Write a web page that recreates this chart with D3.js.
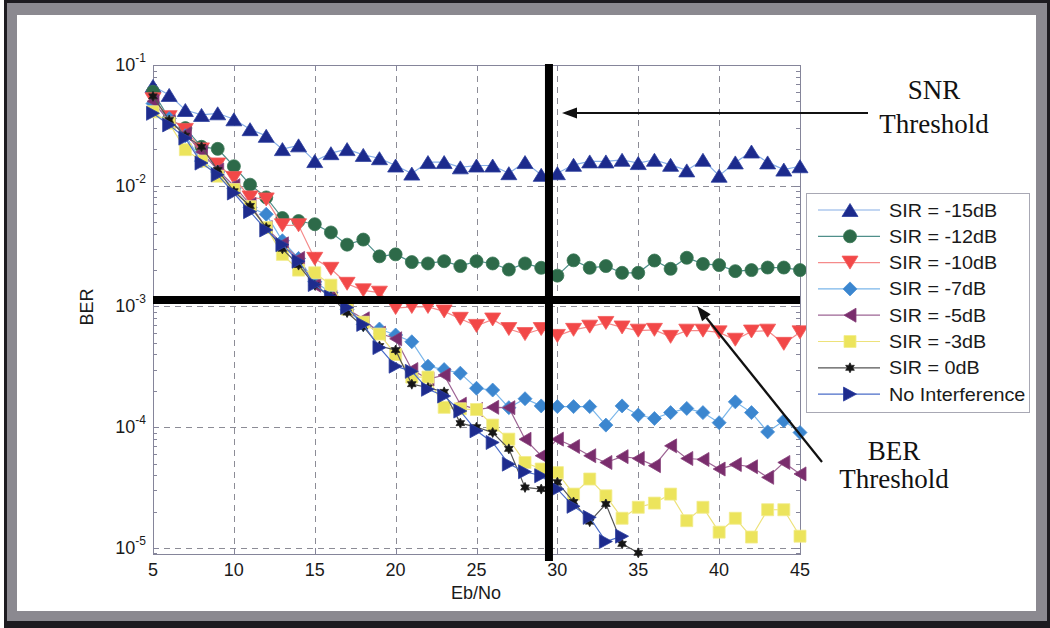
<!DOCTYPE html>
<html>
<head>
<meta charset="utf-8">
<script src="https://cdn.jsdelivr.net/npm/d3@7"></script>
<style>
  html, body { margin: 0; padding: 0; background: #fff; }
  svg { display: block; }
  text.sans { font-family: "Liberation Sans", Arial, sans-serif; }
  text.serif { font-family: "Liberation Serif", "Times New Roman", serif; }
</style>
</head>
<body>
<script>
// Eb/No sample points (dB)
const ebno = [5,6,7,8,9,10,11,12,13,14,15,16,17,18,19,20,21,22,23,24,25,26,27,28,29,30,31,32,33,34,35,36,37,38,39,40,41,42,43,44,45];

// Measured BER per interference level
const berSir15 = [0.067,0.0565,0.0424,0.0386,0.0398,0.0355,0.0294,0.0259,0.0201,0.0216,0.0160,0.0186,0.0201,0.0180,0.0169,0.0147,0.0126,0.0157,0.0157,0.0142,0.0147,0.0147,0.0127,0.0157,0.0123,0.0127,0.0149,0.0159,0.0159,0.0164,0.0154,0.0164,0.0149,0.0134,0.0164,0.0121,0.0156,0.0192,0.0156,0.0136,0.0145];
const berSir12 = [0.060,0.036,0.030,0.021,0.0202,0.0145,0.0102,0.0080,0.0054,0.0051,0.0048,0.0041,0.00325,0.00358,0.0026,0.0027,0.00233,0.00227,0.00237,0.00216,0.00237,0.00227,0.00202,0.00227,0.00209,0.00180,0.00241,0.00209,0.00216,0.0019,0.0019,0.0024,0.00205,0.00253,0.00225,0.0022,0.00196,0.0020,0.0021,0.0021,0.0020];
const berSir10 = [0.052,0.037,0.029,0.020,0.015,0.0116,0.0080,0.0077,0.0047,0.0047,0.00248,0.00205,0.00154,0.00136,0.0013,0.00097,0.00099,0.00099,0.00091,0.00079,0.00069,0.00078,0.00065,0.00059,0.00065,0.00057,0.00064,0.00068,0.00073,0.00067,0.00063,0.00064,0.00056,0.00063,0.00063,0.00061,0.00053,0.00062,0.00063,0.00049,0.00061];
const berSir7 = [0.048,0.036,0.026,0.016,0.013,0.0095,0.0066,0.0058,0.0035,0.0025,0.0016,0.0013,0.00094,0.00071,0.00065,0.00058,0.00051,0.00032,0.00030,0.00028,0.00021,0.000203,0.000145,0.000172,0.00015,0.000148,0.000148,0.000148,0.000104,0.00015,0.000126,0.000118,0.000132,0.000143,0.000132,0.000109,0.000162,0.000132,0.0000914,0.000113,0.0000903];
const berSir5 = [0.050,0.034,0.027,0.019,0.0135,0.0100,0.0070,0.0045,0.0033,0.0025,0.0015,0.0012,0.00095,0.00079,0.00060,0.00054,0.00030,0.00025,0.00027,0.000155,0.00014,0.000146,0.000145,0.0000794,0.000058,0.0000796,0.0000692,0.000058,0.000051,0.000057,0.000055,0.000048,0.000070,0.000055,0.000054,0.000045,0.000049,0.000047,0.0000384,0.000051,0.000041];
const berSir3 = [0.041,0.033,0.0199,0.016,0.012,0.0093,0.0067,0.0045,0.0027,0.0020,0.0019,0.0015,0.00095,0.00074,0.00059,0.00040,0.00026,0.00026,0.000146,0.000142,0.00014,0.000104,0.0000796,0.000051,0.000045,0.000042,0.0000279,0.0000372,0.000027,0.0000176,0.0000217,0.0000235,0.0000279,0.0000168,0.0000217,0.0000135,0.0000176,0.0000123,0.0000207,0.0000207,0.0000125];
const berSir0 = [0.055,0.035,0.026,0.021,0.0135,0.009,0.0068,0.0045,0.003,0.0022,0.0015,0.0012,0.00089,0.00068,0.00047,0.000435,0.000227,0.000213,0.000196,0.000108,0.0001,0.0000903,0.0000661,0.0000317,0.0000307,0.000035,0.000024,0.0000165,0.0000231,0.0000108,0.0000091];
const berNoInt = [0.0398,0.0319,0.0248,0.0154,0.0123,0.0087,0.0061,0.0043,0.00325,0.00237,0.00152,0.0012,0.00098,0.00071,0.000456,0.00032,0.00029,0.000206,0.000181,0.000136,0.0000933,0.0000747,0.0000494,0.0000427,0.0000396,0.0000307,0.0000221,0.0000179,0.0000113,0.0000125];

const seriesNames = ["SIR = -15dB","SIR = -12dB","SIR = -10dB","SIR = -7dB","SIR = -5dB","SIR = -3dB","SIR = 0dB","No Interference"];
const seriesValues = [berSir15, berSir12, berSir10, berSir7, berSir5, berSir3, berSir0, berNoInt];

// Axis ticks
const xTicks = [5,10,15,20,25,30,35,40,45];
const yTicks = [1e-5,1e-4,1e-3,1e-2,1e-1];
const yTickExp = ["-5","-4","-3","-2","-1"];

// Threshold lines
const snrThreshold = 29.48;
const berThreshold = 1.13e-3;

// Look of each series
const styles = [
  {shape:"up",      fill:"#1c2a8c", edge:"#2c3f9e", line:"#86aee6", w:16, h:13},
  {shape:"circle",  fill:"#2d6a49", edge:"#3a7756", line:"#4f8f8a", w:13, h:13},
  {shape:"down",    fill:"#f24848", edge:"#f25a5a", line:"#f58a8a", w:16, h:13},
  {shape:"diamond", fill:"#3b86cf", edge:"#4a90d6", line:"#7ab6ea", w:14, h:14},
  {shape:"left",    fill:"#7a2d6d", edge:"#86407a", line:"#9d6494", w:12, h:14},
  {shape:"square",  fill:"#ece45c", edge:"#f2ec8c", line:"#ede27a", w:12, h:12},
  {shape:"hex",     fill:"#151515", edge:"#222",    line:"#555",    w:10, h:10},
  {shape:"right",   fill:"#1e2c8e", edge:"#2c3f9e", line:"#4a6cc8", w:13, h:14}
];

function markerPath(st) {
  const w = st.w / 2, h = st.h / 2;
  switch (st.shape) {
    case "up":    return `M0,${-h}L${w},${h}L${-w},${h}Z`;
    case "down":  return `M0,${h}L${w},${-h}L${-w},${-h}Z`;
    case "left":  return `M${-w},0L${w},${-h}L${w},${h}Z`;
    case "right": return `M${w},0L${-w},${-h}L${-w},${h}Z`;
    case "diamond": return `M0,${-h}L${w},0L0,${h}L${-w},0Z`;
    case "square":  return `M${-w},${-h}H${w}V${h}H${-w}Z`;
    case "circle":  return `M${w},0A${w},${w} 0 1,1 ${-w},0A${w},${w} 0 1,1 ${w},0Z`;
    case "hex": {
      const pts = [];
      for (let i = 0; i < 12; i++) {
        const r = i % 2 === 0 ? w : w * 0.55;
        const a = Math.PI / 6 * i - Math.PI / 2;
        pts.push([r * Math.cos(a), r * Math.sin(a)]);
      }
      return "M" + pts.map(p => p[0].toFixed(2) + "," + p[1].toFixed(2)).join("L") + "Z";
    }
  }
}

const W = 1050, H = 628;
const plot = {left:153, right:800, top:65, bottom:554};

const svg = d3.select("body").append("svg").attr("width", W).attr("height", H);

// Picture frame
svg.append("rect").attr("x",4).attr("y",0).attr("width",1046).attr("height",628).attr("fill","#1d1b20");
svg.append("rect").attr("x",7).attr("y",3).attr("width",1040).attr("height",618).attr("fill","#8b8990");
svg.append("rect").attr("x",17).attr("y",15).attr("width",1019).attr("height",596).attr("fill","#ffffff");

const x = d3.scaleLinear().domain([5,45]).range([plot.left, plot.right]);
const y = d3.scaleLog().domain([8.9e-6, 0.1]).range([plot.bottom, plot.top]);

// Grid
const grid = svg.append("g").attr("stroke","#8c8c96").attr("stroke-width",1).attr("stroke-dasharray","6,5").attr("fill","none");
grid.selectAll("line.gx").data(xTicks.filter(t => t > 5 && t < 45)).enter().append("line")
  .attr("x1", d => Math.round(x(d)) + 0.5).attr("x2", d => Math.round(x(d)) + 0.5)
  .attr("y1", plot.top).attr("y2", plot.bottom);
grid.selectAll("line.gy").data(yTicks.filter(t => t < 0.1)).enter().append("line")
  .attr("y1", d => Math.round(y(d)) + 0.5).attr("y2", d => Math.round(y(d)) + 0.5)
  .attr("x1", plot.left).attr("x2", plot.right);

// Axes box and ticks
const axisColor = "#85859a";
svg.append("rect").attr("x", plot.left + 0.5).attr("y", plot.top + 0.5)
  .attr("width", plot.right - plot.left).attr("height", plot.bottom - plot.top)
  .attr("fill","none").attr("stroke", axisColor).attr("stroke-width",1);

const minorTicks = [];
for (let e = -6; e < -1; e++) for (let m = 2; m <= 9; m++) {
  const v = m * Math.pow(10, e);
  if (v > 8.9e-6 && v < 0.1) minorTicks.push(v);
}
const ticksG = svg.append("g").attr("stroke", axisColor).attr("stroke-width",1);
function tickLines(vals, len, isY) {
  vals.forEach(v => {
    if (isY) {
      const p = Math.round(y(v)) + 0.5;
      ticksG.append("line").attr("x1", plot.left).attr("x2", plot.left + len).attr("y1", p).attr("y2", p);
      ticksG.append("line").attr("x1", plot.right).attr("x2", plot.right - len).attr("y1", p).attr("y2", p);
    } else {
      const p = Math.round(x(v)) + 0.5;
      ticksG.append("line").attr("y1", plot.bottom).attr("y2", plot.bottom - len).attr("x1", p).attr("x2", p);
      ticksG.append("line").attr("y1", plot.top).attr("y2", plot.top + len).attr("x1", p).attr("x2", p);
    }
  });
}
tickLines(minorTicks, 4, true);
tickLines(yTicks, 6, true);
tickLines(xTicks, 6, false);

// Tick labels
svg.append("g").selectAll("text").data(xTicks).enter().append("text").attr("class","sans")
  .attr("x", d => x(d)).attr("y", 576).attr("text-anchor","middle")
  .attr("font-size", 18).attr("fill","#1a1a1a").text(d => d);

const yl = svg.append("g").selectAll("text").data(yTicks).enter().append("text").attr("class","sans")
  .attr("x", 146).attr("y", d => y(d) + 6).attr("text-anchor","end")
  .attr("font-size", 18).attr("fill","#1a1a1a");
yl.append("tspan").text("10");
yl.append("tspan").attr("dy", -9).attr("font-size", 12).text((d, i) => yTickExp[i]);

svg.append("text").attr("class","sans").attr("x", 476).attr("y", 599).attr("text-anchor","middle")
  .attr("font-size", 18).attr("fill","#1a1a1a").text("Eb/No");
svg.append("text").attr("class","sans").attr("transform","translate(93,307) rotate(-90)").attr("text-anchor","middle")
  .attr("font-size", 18).attr("fill","#1a1a1a").text("BER");

// Series
const lineGen = d3.line().x(d => x(d[0])).y(d => y(d[1]));
seriesValues.forEach((vals, i) => {
  const st = styles[i];
  const pts = vals.map((v, k) => [ebno[k], v]);
  const g = svg.append("g");
  g.append("path").attr("d", lineGen(pts)).attr("fill","none")
    .attr("stroke", st.line).attr("stroke-width", 1.2);
  g.selectAll("path.m").data(pts).enter().append("path")
    .attr("transform", d => `translate(${x(d[0])},${y(d[1])})`)
    .attr("d", markerPath(st)).attr("fill", st.fill)
    .attr("stroke", st.edge).attr("stroke-width", 0.8);
});

// Threshold lines
svg.append("line").attr("x1", plot.left).attr("x2", plot.right)
  .attr("y1", y(berThreshold)).attr("y2", y(berThreshold))
  .attr("stroke","#000").attr("stroke-width", 8);
svg.append("line").attr("x1", x(snrThreshold)).attr("x2", x(snrThreshold))
  .attr("y1", 64).attr("y2", 561)
  .attr("stroke","#000").attr("stroke-width", 8);

// Legend
const lg = svg.append("g");
lg.append("rect").attr("x", 806.5).attr("y", 193.5).attr("width", 223).attr("height", 219)
  .attr("fill","#fff").attr("stroke","#a8a8b4").attr("stroke-width",1);
seriesNames.forEach((name, i) => {
  const st = styles[i];
  const ly = 210 + i * 26.3;
  lg.append("line").attr("x1", 818).attr("x2", 880).attr("y1", ly).attr("y2", ly)
    .attr("stroke", st.line).attr("stroke-width", 1.2);
  lg.append("path").attr("transform", `translate(850,${ly})`).attr("d", markerPath(st))
    .attr("fill", st.fill).attr("stroke", st.edge).attr("stroke-width", 0.8);
  lg.append("text").attr("class","sans")
    .attr("transform", `translate(889,${ly + 6.5}) scale(1.1,1)`).attr("font-size", 18)
    .attr("fill","#1a1a1a").text(name);
});

// Annotations
function arrow(x1, y1, x2, y2) {
  const dx = x2 - x1, dy = y2 - y1, len = Math.hypot(dx, dy);
  const ux = dx / len, uy = dy / len, hl = 15, hw = 5.5;
  const bx = x2 - ux * hl, by = y2 - uy * hl;
  svg.append("line").attr("x1", x1).attr("y1", y1).attr("x2", bx).attr("y2", by)
    .attr("stroke","#111").attr("stroke-width", 2.2);
  svg.append("path").attr("d", `M${x2},${y2}L${bx - uy * hw},${by + ux * hw}L${bx + uy * hw},${by - ux * hw}Z`)
    .attr("fill","#111");
}
arrow(868, 113, 562, 113);
arrow(822, 462, 697, 306);

[["SNR", 934, 99], ["Threshold", 934, 133], ["BER", 894, 460], ["Threshold", 894, 488]].forEach(t => {
  svg.append("text").attr("class","serif").attr("x", t[1]).attr("y", t[2]).attr("text-anchor","middle")
    .attr("font-size", 27).attr("fill","#111").text(t[0]);
});
</script>
</body>
</html>
